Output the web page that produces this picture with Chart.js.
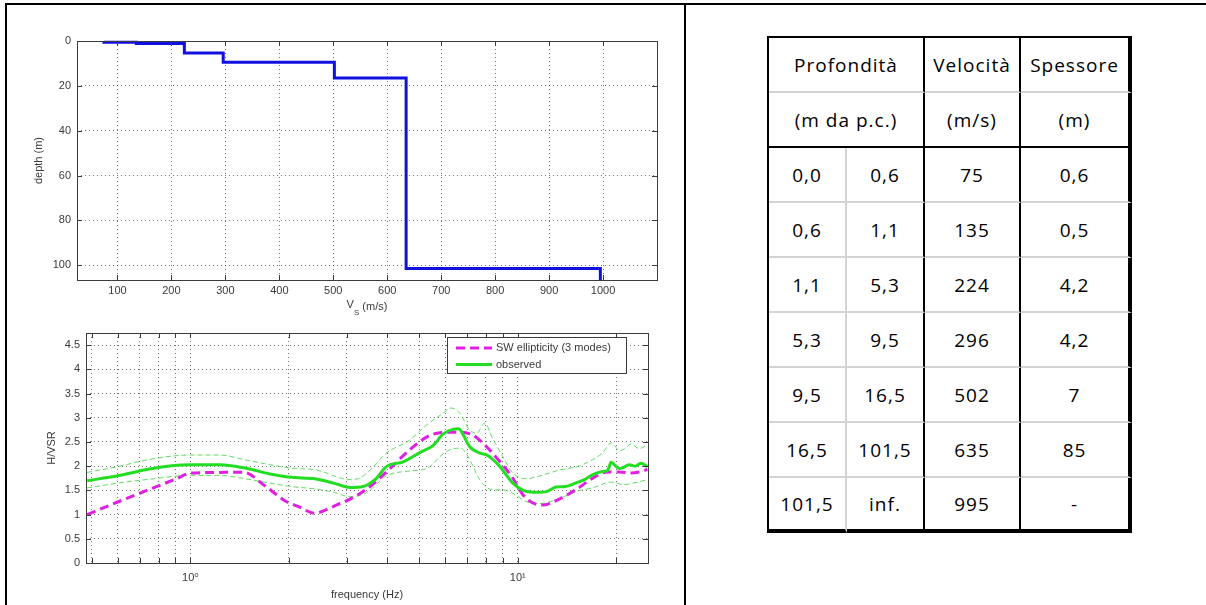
<!DOCTYPE html>
<html>
<head>
<meta charset="utf-8">
<script src="https://cdn.jsdelivr.net/npm/chart.js@4.4.1/dist/chart.umd.min.js"></script>
<style>
  html, body { margin: 0; padding: 0; background: #fff; }
  #page { position: relative; width: 1206px; height: 605px; overflow: hidden; background: #fff; }
  #page canvas { position: absolute; }
  .rule { position: absolute; background: #000; }
  #layers {
    position: absolute; left: 767px; top: 36px;
    border-collapse: separate; border-spacing: 0; table-layout: fixed;
    border-top: 2px solid #000; border-left: 2px solid #000;
    font-family: "Open Sans", sans-serif; font-size: 19px; letter-spacing: 1px; color: #000;
  }
  #layers td { padding: 0; text-align: center; vertical-align: middle; box-sizing: border-box; white-space: nowrap; }
  #layers tr { height: 55px; }
  #layers td.c1 { border-right: 2px solid #d4d4d4; }
  #layers td.c2, #layers td.c12, #layers td.c3 { border-right: 2px solid #000; }
  #layers td.c4 { border-right: 4px solid #000; }
  #layers tr.h1 td { border-bottom: 2px solid #d4d4d4; }
  #layers tr.h2 td { border-bottom: 2px solid #000; }
  #layers tr.d td { border-bottom: 2px solid #d4d4d4; }
  #layers tr.d.last td { border-bottom: 4px solid #000; }
</style>
</head>
<body>
<div id="page">
  <canvas id="vsChart" width="685" height="320" style="left:0;top:0;"></canvas>
  <canvas id="hvChart" width="685" height="285" style="left:0;top:320px;"></canvas>
  <table id="layers">
    <colgroup><col style="width:78px"><col style="width:78px"><col style="width:96px"><col style="width:111px"></colgroup>
    <tbody id="layersBody"></tbody>
  </table>
  <div class="rule" style="left:5px;top:3px;width:1201px;height:2px;"></div>
  <div class="rule" style="left:5px;top:3px;width:2px;height:602px;"></div>
  <div class="rule" style="left:684px;top:3px;width:2px;height:602px;"></div>
</div>
<script>
// ---------------- Data: Vs profile ----------------
const layerTop    = [0, 0.6, 1.1, 5.3, 9.5, 16.5, 101.5];
const layerBottom = [0.6, 1.1, 5.3, 9.5, 16.5, 101.5, null]; // null = half-space
const layerVs     = [75, 135, 224, 296, 502, 635, 995];
const vsTicks     = [100, 200, 300, 400, 500, 600, 700, 800, 900, 1000];
const depthTicks  = [0, 20, 40, 60, 80, 100];
const vsMin = 25, vsMax = 1100;
const depthMin = 0, depthMax = 106.6;

// ---------------- Data: table ----------------
const tableHead1 = ['Profondità', 'Velocità', 'Spessore'];
const tableHead2 = ['(m da p.c.)', '(m/s)', '(m)'];
const tabFrom  = ['0,0', '0,6', '1,1', '5,3', '9,5', '16,5', '101,5'];
const tabTo    = ['0,6', '1,1', '5,3', '9,5', '16,5', '101,5', 'inf.'];
const tabVs    = ['75', '135', '224', '296', '502', '635', '995'];
const tabThick = ['0,6', '0,5', '4,2', '4,2', '7', '85', '-'];

// ---------------- Data: H/V curves ----------------
const freqSW = [0.484, 0.6, 0.75, 0.9, 1.0, 1.2, 1.45, 1.7, 1.95, 2.15, 2.39, 2.8, 3.2, 3.6, 4.0, 4.7, 5.3, 5.8, 6.5, 7.2, 7.7, 8.3, 8.9, 9.6, 10.4, 11.3, 12.0, 13.2, 15.1, 17.2, 18.8, 20.5, 22.0, 23.5, 24.9];
const hvSW   = [1.00, 1.26, 1.52, 1.73, 1.855, 1.87, 1.875, 1.58, 1.28, 1.16, 1.03, 1.20, 1.38, 1.62, 1.90, 2.35, 2.61, 2.69, 2.70, 2.66, 2.52, 2.30, 2.06, 1.78, 1.40, 1.22, 1.20, 1.30, 1.52, 1.78, 1.88, 1.88, 1.86, 1.88, 1.93];

const freqObs = [0.484, 0.6, 0.75, 0.88, 1.0, 1.23, 1.47, 1.75, 2.03, 2.4, 2.74, 3.07, 3.37, 3.7, 3.97, 4.47, 5.02, 5.52, 5.91, 6.34, 6.6, 6.8, 7.13, 7.66, 8.1, 8.8, 9.66, 10.4, 11.4, 12.3, 13.1, 14.0, 15.0, 16.0, 16.9, 18.2, 18.8, 19.3, 19.8, 20.4, 21.0, 21.9, 22.8, 23.8, 24.9];
const hvObs   = [1.70, 1.80, 1.94, 2.01, 2.03, 2.03, 1.96, 1.84, 1.77, 1.74, 1.65, 1.56, 1.58, 1.75, 1.99, 2.09, 2.28, 2.43, 2.66, 2.76, 2.77, 2.66, 2.40, 2.27, 2.22, 2.00, 1.65, 1.50, 1.46, 1.48, 1.57, 1.58, 1.65, 1.72, 1.82, 1.89, 1.91, 2.08, 2.02, 1.95, 1.97, 2.03, 2.00, 2.06, 1.99];

const freqUp = [0.484, 0.6, 0.75, 1.0, 1.23, 1.47, 1.75, 2.03, 2.43, 2.93, 3.1, 3.3, 3.54, 3.97, 4.68, 5.27, 5.91, 6.26, 6.66, 7.13, 7.5, 7.92, 8.4, 9.0, 9.66, 10.6, 11.7, 13.4, 15.2, 16.9, 18.2, 19.3, 20.5, 21.2, 22.2, 23.5, 24.9];
const hvUp   = [1.87, 1.99, 2.14, 2.23, 2.23, 2.13, 2.03, 1.96, 1.92, 1.74, 1.72, 1.76, 1.92, 2.27, 2.54, 2.85, 3.09, 3.20, 3.09, 2.75, 2.68, 2.89, 2.56, 2.20, 1.86, 1.74, 1.80, 1.92, 1.99, 2.13, 2.28, 2.48, 2.32, 2.36, 2.46, 2.36, 2.45];

const freqLow = [0.484, 0.6, 0.75, 1.0, 1.23, 1.47, 1.75, 2.03, 2.4, 2.75, 3.07, 3.4, 3.6, 3.97, 4.68, 5.27, 5.91, 6.34, 6.7, 7.05, 7.66, 8.4, 9.0, 9.66, 10.6, 11.7, 13.4, 15.1, 16.9, 19.3, 21.0, 22.5, 24.9];
const hvLow   = [1.55, 1.65, 1.73, 1.81, 1.81, 1.74, 1.65, 1.58, 1.53, 1.46, 1.37, 1.43, 1.55, 1.80, 1.90, 1.95, 2.25, 2.36, 2.37, 2.20, 1.72, 1.51, 1.51, 1.44, 1.27, 1.23, 1.33, 1.48, 1.55, 1.67, 1.62, 1.65, 1.72];

const freqTicks = [0.5, 0.6, 0.7, 0.8, 0.9, 1, 2, 3, 4, 5, 6, 7, 8, 9, 10, 20];
const freqLabels = {1: '10\u2070', 10: '10\u00b9'};
const hvTicks = [0, 0.5, 1, 1.5, 2, 2.5, 3, 3.5, 4, 4.5];
const freqMin = 0.48, freqMax = 25;
const hvMin = 0, hvMax = 4.75;

const legendLabels = ['SW ellipticity (3 modes)', 'observed'];

// ---------------- Table ----------------
(function buildTable() {
  const body = document.getElementById('layersBody');
  let html = '<tr class="h1"><td class="c12" colspan="2">' + tableHead1[0] + '</td><td class="c3">' + tableHead1[1] + '</td><td class="c4">' + tableHead1[2] + '</td></tr>';
  html += '<tr class="h2"><td class="c12" colspan="2">' + tableHead2[0] + '</td><td class="c3">' + tableHead2[1] + '</td><td class="c4">' + tableHead2[2] + '</td></tr>';
  for (let i = 0; i < tabFrom.length; i++) {
    const last = i === tabFrom.length - 1 ? ' last' : '';
    html += '<tr class="d' + last + '"><td class="c1">' + tabFrom[i] + '</td><td class="c2">' + tabTo[i] + '</td><td class="c3">' + tabVs[i] + '</td><td class="c4">' + tabThick[i] + '</td></tr>';
  }
  body.innerHTML = html;
})();

// ---------------- Chart helpers ----------------
const FONT = "'Liberation Sans', 'DejaVu Sans', Arial, sans-serif";
Chart.defaults.font.family = FONT;
Chart.defaults.font.size = 11;
Chart.defaults.color = '#3a3a3a';

const gridColor = 'rgba(0,0,0,0.55)';
const axisColor = '#3c3c3c';
const plainLabel = v => String(v);

function pts(xs, ys) { return xs.map((x, i) => ({x: x, y: ys[i]})); }

const matlabAxes = {
  id: 'matlabAxes',
  afterDatasetsDraw(chart) {
    const {ctx, chartArea: a, scales} = chart;
    const len = 5;
    ctx.save();
    ctx.strokeStyle = axisColor;
    ctx.lineWidth = 1;
    ctx.setLineDash([]);
    ctx.beginPath();
    scales.x.ticks.forEach(t => {
      const px = Math.round(scales.x.getPixelForValue(t.value)) + 0.5;
      if (px < a.left || px > a.right) return;
      ctx.moveTo(px, a.bottom); ctx.lineTo(px, a.bottom - len);
      ctx.moveTo(px, a.top); ctx.lineTo(px, a.top + len);
    });
    scales.y.ticks.forEach(t => {
      const py = Math.round(scales.y.getPixelForValue(t.value)) + 0.5;
      ctx.moveTo(a.left, py); ctx.lineTo(a.left + len, py);
      ctx.moveTo(a.right, py); ctx.lineTo(a.right - len, py);
    });
    ctx.stroke();
    ctx.strokeRect(Math.round(a.left) + 0.5, Math.round(a.top) + 0.5, Math.round(a.right - a.left), Math.round(a.bottom - a.top));
    ctx.restore();
  }
};

const vsTitle = {
  id: 'vsTitle',
  afterDraw(chart) {
    const {ctx, chartArea: a} = chart;
    const cx = (a.left + a.right) / 2;
    const y = a.bottom + 26;
    const main = 11, sub = 8;
    ctx.save();
    ctx.fillStyle = '#3a3a3a';
    ctx.textBaseline = 'middle';
    ctx.font = main + 'px ' + FONT;
    const wV = ctx.measureText('V').width;
    const wRest = ctx.measureText(' (m/s)').width;
    ctx.font = sub + 'px ' + FONT;
    const wS = ctx.measureText('S').width;
    let x = cx - (wV + wS + wRest) / 2;
    ctx.font = main + 'px ' + FONT;
    ctx.fillText('V', x, y - 1);
    x += wV;
    ctx.font = sub + 'px ' + FONT;
    ctx.fillText('S', x, y + 7);
    x += wS;
    ctx.font = main + 'px ' + FONT;
    ctx.fillText(' (m/s)', x, y + 1);
    ctx.restore();
  }
};

const hvLegend = {
  id: 'hvLegend',
  afterDraw(chart) {
    const {ctx, chartArea: a} = chart;
    const items = chart.data.datasets.filter(d => legendLabels.includes(d.label));
    const w = 179, h = 36;
    const x = Math.round(a.right - 22 - w), y = Math.round(a.top + 4);
    ctx.save();
    ctx.fillStyle = '#fff';
    ctx.fillRect(x, y, w, h);
    ctx.strokeStyle = '#3c3c3c';
    ctx.lineWidth = 1;
    ctx.strokeRect(x + 0.5, y + 0.5, w, h);
    ctx.font = '11px ' + FONT;
    ctx.textBaseline = 'middle';
    items.forEach((d, i) => {
      const yy = y + 11 + i * 16.5;
      ctx.strokeStyle = d.borderColor;
      ctx.lineWidth = d.borderWidth;
      ctx.setLineDash(d.borderDash || []);
      ctx.beginPath();
      ctx.moveTo(x + 9, yy); ctx.lineTo(x + 45, yy);
      ctx.stroke();
      ctx.setLineDash([]);
      ctx.fillStyle = '#3a3a3a';
      ctx.fillText(d.label, x + 49, yy);
    });
    ctx.restore();
  }
};

// ---------------- Vs profile chart ----------------
const profile = [];
layerVs.forEach((v, i) => {
  profile.push({x: v, y: layerTop[i]});
  profile.push({x: v, y: layerBottom[i] === null ? depthMax : layerBottom[i]});
});

new Chart(document.getElementById('vsChart'), {
  type: 'scatter',
  data: {
    datasets: [{
      label: 'Vs',
      data: profile,
      showLine: true,
      borderColor: '#1010e0',
      backgroundColor: '#1010e0',
      borderWidth: 3,
      pointRadius: 0,
      fill: false,
      clip: {left: 4, top: 4, right: 4, bottom: 0}
    }]
  },
  options: {
    responsive: false, animation: false, devicePixelRatio: 1,
    layout: {padding: {top: 41, right: 28, left: 0, bottom: 0}},
    plugins: {legend: {display: false}, tooltip: {enabled: false}},
    scales: {
      x: {
        type: 'linear', min: vsMin, max: vsMax,
        afterBuildTicks: s => { s.ticks = vsTicks.map(v => ({value: v})); },
        afterFit: s => { s.height = 40; },
        grid: {color: gridColor, lineWidth: 1, drawTicks: false},
        border: {display: false, dash: [1, 3]},
        ticks: {padding: 4, maxRotation: 0, autoSkip: false, color: '#3a3a3a', callback: plainLabel}
      },
      y: {
        type: 'linear', reverse: true, min: depthMin, max: depthMax,
        afterBuildTicks: s => { s.ticks = depthTicks.map(v => ({value: v})); },
        afterFit: s => { s.width = 77; },
        grid: {color: gridColor, lineWidth: 1, drawTicks: false},
        border: {display: false, dash: [1, 3]},
        ticks: {padding: 6, autoSkip: false, color: '#3a3a3a', callback: plainLabel},
        title: {display: true, text: 'depth (m)', color: '#3a3a3a', font: {size: 11}, padding: {top: 32, bottom: 0}}
      }
    }
  },
  plugins: [matlabAxes, vsTitle]
});

// ---------------- H/V chart ----------------
new Chart(document.getElementById('hvChart'), {
  type: 'scatter',
  data: {
    datasets: [
      {
        label: legendLabels[0], data: pts(freqSW, hvSW), showLine: true,
        borderColor: '#e020e0', borderWidth: 3, borderDash: [9, 5], pointRadius: 0,
        cubicInterpolationMode: 'monotone', order: 1
      },
      {
        label: legendLabels[1], data: pts(freqObs, hvObs), showLine: true,
        borderColor: '#22dd22', borderWidth: 3, pointRadius: 0,
        cubicInterpolationMode: 'monotone', order: 0
      },
      {
        label: 'observed + std', data: pts(freqUp, hvUp), showLine: true,
        borderColor: 'rgba(40,210,40,0.75)', borderWidth: 1, borderDash: [5, 3], pointRadius: 0,
        cubicInterpolationMode: 'monotone', order: 2
      },
      {
        label: 'observed - std', data: pts(freqLow, hvLow), showLine: true,
        borderColor: 'rgba(40,210,40,0.75)', borderWidth: 1, borderDash: [5, 3], pointRadius: 0,
        cubicInterpolationMode: 'monotone', order: 2
      }
    ]
  },
  options: {
    responsive: false, animation: false, devicePixelRatio: 1,
    layout: {padding: {top: 13, right: 37, left: 0, bottom: 0}},
    plugins: {legend: {display: false}, tooltip: {enabled: false}},
    scales: {
      x: {
        type: 'logarithmic', min: freqMin, max: freqMax,
        afterBuildTicks: s => { s.ticks = freqTicks.map(v => ({value: v})); },
        afterFit: s => { s.height = 42; },
        grid: {color: gridColor, lineWidth: 1, drawTicks: false},
        border: {display: false, dash: [1, 3]},
        ticks: {
          padding: 8, maxRotation: 0, autoSkip: false, color: '#3a3a3a',
          callback: v => freqLabels[v] || ''
        },
        title: {display: true, text: 'frequency (Hz)', color: '#3a3a3a', font: {size: 11}, padding: {top: 0, bottom: 3}}
      },
      y: {
        type: 'linear', min: hvMin, max: hvMax,
        afterBuildTicks: s => { s.ticks = hvTicks.map(v => ({value: v})); },
        afterFit: s => { s.width = 86; },
        grid: {color: gridColor, lineWidth: 1, drawTicks: false},
        border: {display: false, dash: [1, 3]},
        ticks: {padding: 6, autoSkip: false, color: '#3a3a3a', callback: plainLabel},
        title: {display: true, text: 'H/VSR', color: '#3a3a3a', font: {size: 11}, padding: {top: 45, bottom: 0}}
      }
    }
  },
  plugins: [matlabAxes, hvLegend]
});
</script>
</body>
</html>
